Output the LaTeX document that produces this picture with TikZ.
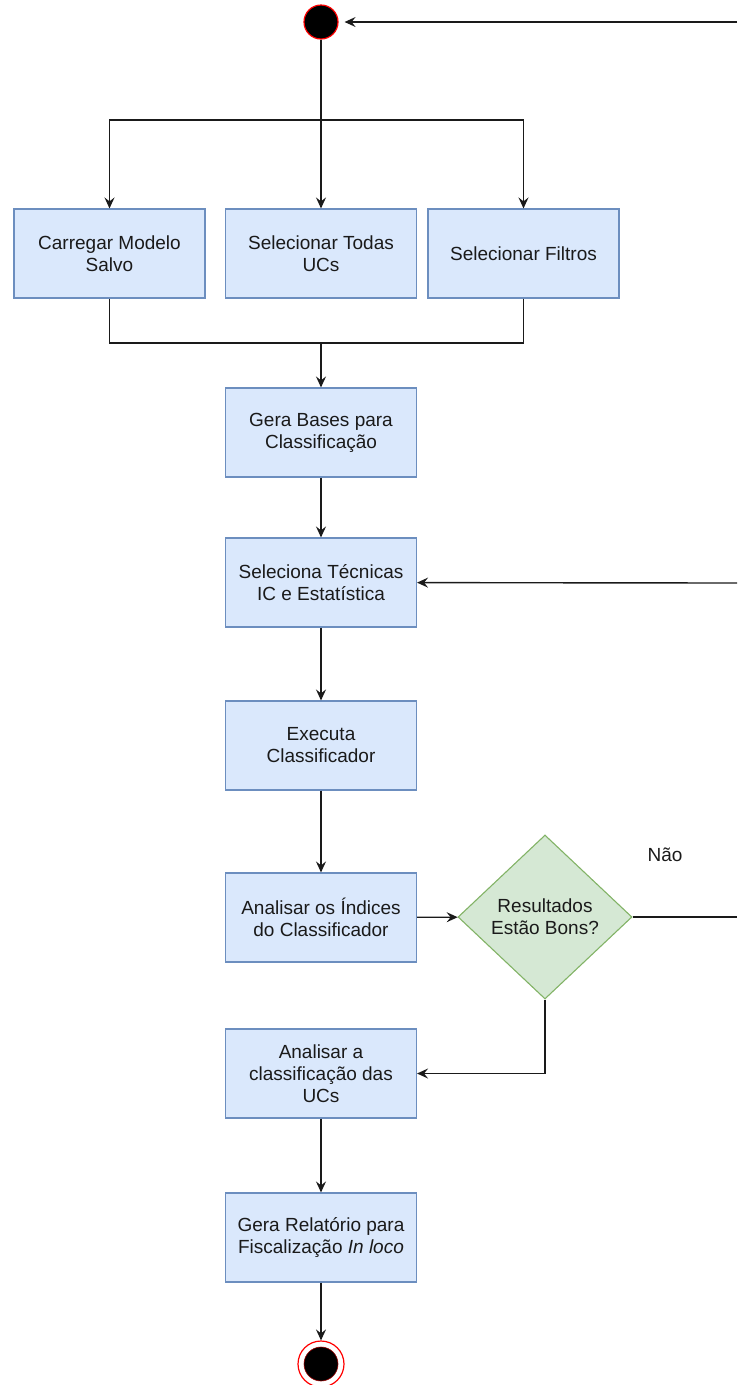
\documentclass[tikz,border=0pt]{standalone}
\usepackage{fontspec}
\setmainfont{Liberation Sans}
\usetikzlibrary{arrows.meta,shapes.geometric}
\definecolor{boxfill}{HTML}{DAE8FC}
\definecolor{boxline}{HTML}{6C8EBF}
\definecolor{decfill}{HTML}{D5E8D4}
\definecolor{decline}{HTML}{82B366}
\definecolor{ink}{HTML}{1A1A1A}
\tikzset{
  labelfont/.style={font=\fontsize{19}{22}\selectfont, text=ink},
  stepbox/.style={draw=boxline, fill=boxfill, line width=1.1pt,
    minimum width=191pt, minimum height=89pt, inner sep=2pt,
    align=center, labelfont},
  decision/.style={diamond, draw=decline, fill=decfill, line width=1.1pt,
    minimum width=174pt, minimum height=164pt, aspect=1.06, inner sep=0pt,
    align=center, labelfont},
  flow/.style={draw=ink, line width=1.4pt},
  arr/.style={flow, -{Stealth[length=11pt,width=10pt,inset=4pt]}},
}
\begin{document}
\begin{tikzpicture}[x=1pt,y=-1pt]
\useasboundingbox (0,0) rectangle (737,1385);

% start and end states
\node[circle, draw=red, fill=black, line width=1.2pt, minimum size=34pt, inner sep=0pt] (start) at (321,22) {};
\node[circle, draw=red, fill=white, line width=1.2pt, minimum size=46pt, inner sep=0pt] (fim) at (321,1364) {};
\node[circle, draw=red!60!black, fill=black, line width=0.6pt, minimum size=34pt, inner sep=0pt] (fimdot) at (321,1364) {};

% first row of alternatives
\node[stepbox] (carregar) at (109.5,253.5) {Carregar Modelo\\Salvo};
\node[stepbox] (todas) at (321,253.5) {Selecionar Todas\\UCs};
\node[stepbox] (filtros) at (523.5,253.5) {Selecionar Filtros};

% main column
\node[stepbox] (bases) at (321,432.5) {Gera Bases para\\Classificação};
\node[stepbox] (tecnicas) at (321,582.5) {Seleciona Técnicas\\IC e Estatística};
\node[stepbox] (executa) at (321,745.5) {Executa\\Classificador};
\node[stepbox] (indices) at (321,917.5) {Analisar os Índices\\do Classificador};
\node[decision] (decisao) at (545,917) {Resultados\\Estão Bons?};
\node[stepbox] (classif) at (321,1073.5) {Analisar a\\classificação das\\UCs};
\node[stepbox] (relatorio) at (321,1237.5) {Gera Relatório para\\Fiscalização \textit{In loco}};

\node[labelfont] (nao) at (665,855) {Não};

% junction points and loose ends at the right margin
\coordinate (split) at (321,120);
\coordinate (merge) at (321,343);
\coordinate (eTop) at (737,22);
\coordinate (eMid) at (737,583);
\coordinate (eNao) at (737,917);

% fork
\draw[arr] (start) -- (todas);
\draw[arr] (split) -| (carregar);
\draw[arr] (split) -| (filtros);

% join
\draw[flow] (carregar) |- (merge);
\draw[flow] (filtros) |- (merge);
\draw[arr] (merge) -- (bases);

% sequence
\draw[arr] (bases) -- (tecnicas);
\draw[arr] (tecnicas) -- (executa);
\draw[arr] (executa) -- (indices);
\draw[arr] (indices) -- (decisao);
\draw[arr] (decisao.south) |- (classif);
\draw[arr] (classif) -- (relatorio);
\draw[arr] (relatorio) -- (fim);

% loops leaving through the right margin
\draw[flow] (decisao.east) -- (eNao);
\draw[arr] (eMid) -- (tecnicas);
\draw[arr, shorten >=6pt] (eTop) -- (start);
\end{tikzpicture}
\end{document}
